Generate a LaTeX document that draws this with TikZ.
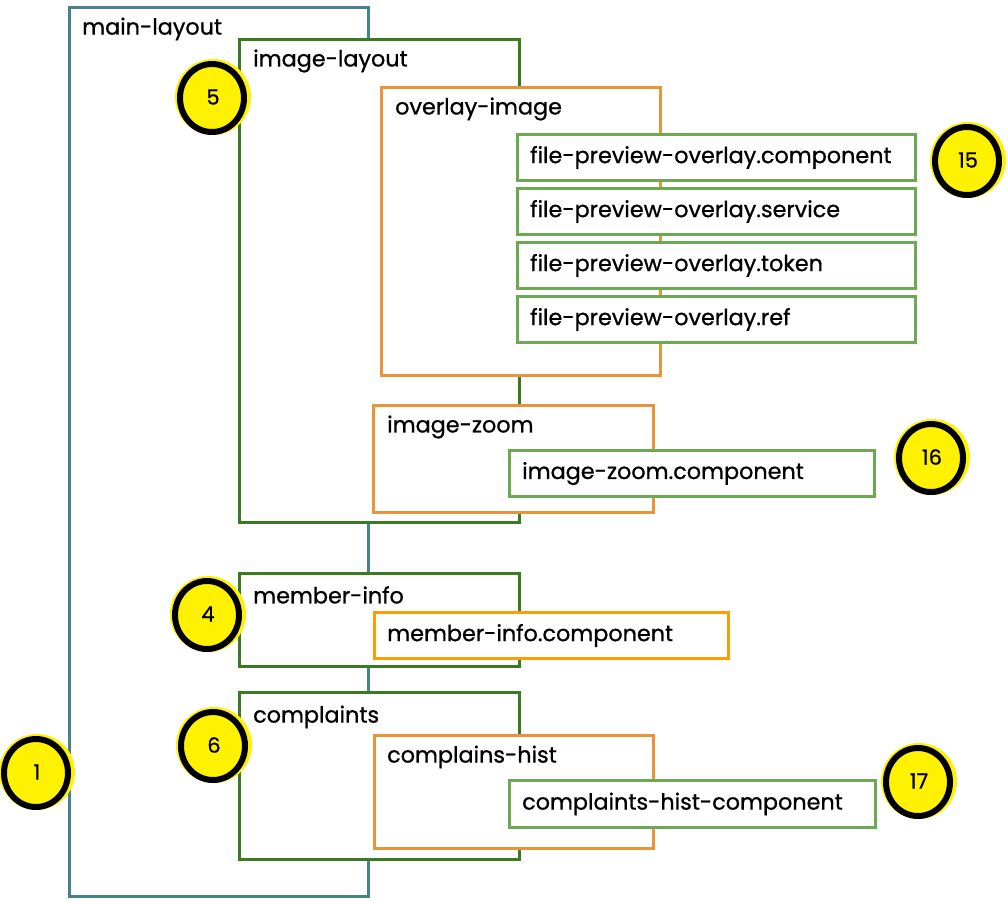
\documentclass[tikz,border=0pt]{standalone}
\usepackage{fontspec}
\setmainfont{Poppins}[FakeBold=0.8]
\usetikzlibrary{positioning,calc}
\definecolor{mainblue}{HTML}{4A818F}
\definecolor{darkgreen}{HTML}{3B7A20}
\definecolor{boxorange}{HTML}{E8943A}
\definecolor{brightorange}{HTML}{FF9C00}
\definecolor{lightgreen}{HTML}{6BAA52}
\begin{document}
\begin{tikzpicture}[x=1pt,y=-1pt,
  box/.style={draw=#1, line width=3pt, fill=white, rectangle, anchor=north west, inner sep=0pt},
  lbl/.style={anchor=west, inner sep=0pt, font=\fontsize{22.3}{25}\selectfont},
  badge/.style={circle, fill=yellow, minimum size=76pt, inner sep=0pt, font=\fontsize{21}{24}\selectfont},
  ring/.style={draw=black, line width=6pt}]
\useasboundingbox (0,0) rectangle (1008,902);
% main layout
\node[box=mainblue, minimum width=299pt, minimum height=889pt] (main) at (68,6) {};
\node[lbl] (main-t) at ([shift={(14,23)}]main.north west) {main-layout};
% image layout
\node[box=darkgreen, minimum width=280pt, minimum height=483pt] (imglay) at (238,38) {};
\node[lbl] (imglay-t) at ([shift={(15,23)}]imglay.north west) {image-layout};
\node[box=boxorange, minimum width=279pt, minimum height=288pt] (overlay) at (380,86) {};
\node[lbl] (overlay-t) at ([shift={(15,23)}]overlay.north west) {overlay-image};
\foreach \i/\y/\t in {1/133/component, 2/187/service, 3/241/token, 4/295/ref} {
  \node[box=lightgreen, minimum width=398pt, minimum height=46pt] (fp\i) at (516,\y) {};
  \node[lbl] (fp\i-t) at ([xshift=14pt]fp\i.west) {file-preview-overlay.\t};
}
\node[box=boxorange, minimum width=280pt, minimum height=107pt] (zoom) at (372,404) {};
\node[lbl] (zoom-t) at ([shift={(15,23)}]zoom.north west) {image-zoom};
\node[box=lightgreen, minimum width=365pt, minimum height=46pt] (zoomcmp) at (508,449) {};
\node[lbl] (zoomcmp-t) at ([xshift=14pt]zoomcmp.west) {image-zoom.component};
% member info
\node[box=darkgreen, minimum width=280pt, minimum height=93pt] (member) at (238,572) {};
\node[lbl] (member-t) at ([shift={(15,23)}]member.north west) {member-info};
\node[box=brightorange, minimum width=354pt, minimum height=46pt] (membercmp) at (373,611) {};
\node[lbl] (membercmp-t) at ([xshift=14pt]membercmp.west) {member-info.component};
% complaints
\node[box=darkgreen, minimum width=280pt, minimum height=167pt] (compl) at (238,691) {};
\node[lbl] (compl-t) at ([shift={(15,26)}]compl.north west) {complaints};
\node[box=boxorange, minimum width=279pt, minimum height=113pt] (hist) at (373,734) {};
\node[lbl] (hist-t) at ([shift={(14,23)}]hist.north west) {complains-hist};
\node[box=lightgreen, minimum width=366pt, minimum height=47pt] (histcmp) at (508,779) {};
\node[lbl] (histcmp-t) at ([xshift=14pt]histcmp.west) {complaints-hist-component};
% badges
\foreach \n/\x/\y in {5/213/97, 15/968/160, 16/932/457, 4/208/614, 6/214/745, 1/37/772, 17/919/781} {
  \node[badge] (b\n) at (\x,\y) {\n};
  \draw[ring] ([shift={(-1,1)}]b\n.center) ellipse (32 and 34);
}
\end{tikzpicture}
\end{document}
